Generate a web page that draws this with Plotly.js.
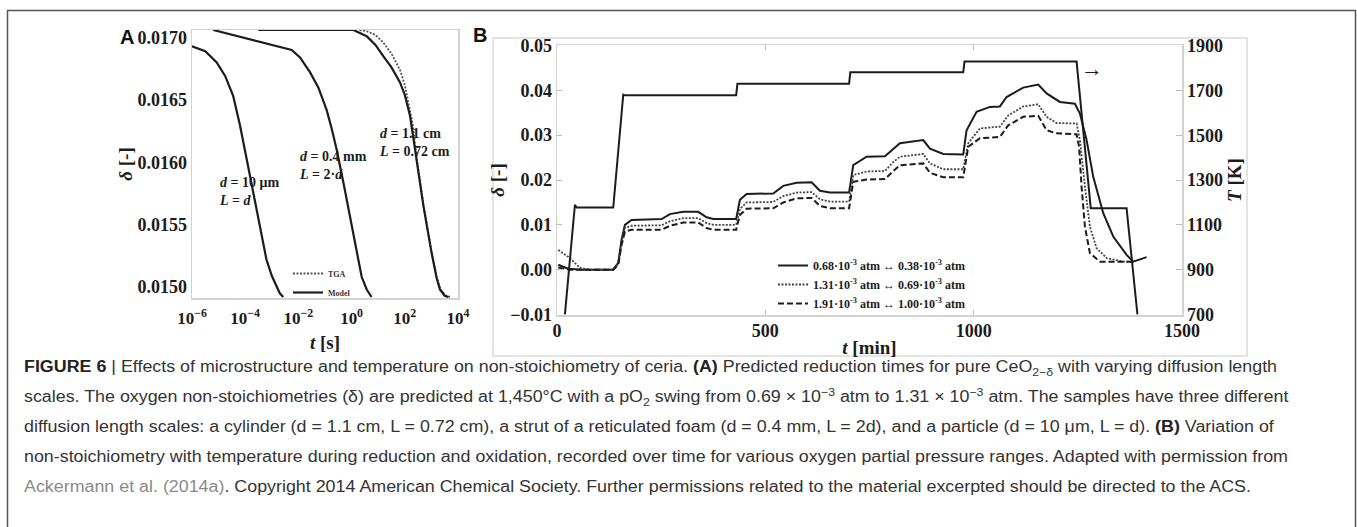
<!DOCTYPE html>
<html>
<head>
<meta charset="utf-8">
<script src="https://cdn.plot.ly/plotly-3.0.1.min.js"></script>
<style>
  html, body { margin:0; padding:0; background:#fff; }
  #wrap { position:relative; width:1357px; height:527px; overflow:hidden; }
  #chart { position:absolute; left:0; top:0; width:1357px; height:527px; }
  .cap { position:absolute; left:24px; white-space:nowrap; font-family:'Liberation Sans', Arial, sans-serif;
         font-size:16px; color:#333; transform-origin:0 50%; line-height:18px; height:18px; }
  .cap b { color:#222; }
  .cap .lnk { color:#8a8a8a; }
  .cap sub, .cap sup { font-size:11px; line-height:0; }
</style>
</head>
<body>
<div id="wrap">
  <div id="chart"></div>
  <div class="cap" id="c1" style="top:358px"><b>FIGURE 6</b> | Effects of microstructure and temperature on non-stoichiometry of ceria. <b>(A)</b> Predicted reduction times for pure CeO<sub>2−δ</sub> with varying diffusion length</div>
  <div class="cap" id="c2" style="top:388px">scales. The oxygen non-stoichiometries (δ) are predicted at 1,450°C with a pO<sub>2</sub> swing from 0.69 × 10<sup>−3</sup> atm to 1.31 × 10<sup>−3</sup> atm. The samples have three different</div>
  <div class="cap" id="c3" style="top:418px">diffusion length scales: a cylinder (d = 1.1 cm, L = 0.72 cm), a strut of a reticulated foam (d = 0.4 mm, L = 2d), and a particle (d = 10 μm, L = d). <b>(B)</b> Variation of</div>
  <div class="cap" id="c4" style="top:448px">non-stoichiometry with temperature during reduction and oxidation, recorded over time for various oxygen partial pressure ranges. Adapted with permission from</div>
  <div class="cap" id="c5" style="top:478px"><span class="lnk">Ackermann et al. (2014a)</span>. Copyright 2014 American Chemical Society. Further permissions related to the material excerpted should be directed to the ACS.</div>
</div>
<script>
// ---------- Panel A data (t in s, delta) ----------
const a10umT = [1e-6, 3.16e-6, 8.5e-6, 1.78e-5, 3.55e-5, 6.3e-5, 1.15e-4, 2.0e-4, 3.55e-4, 6.3e-4, 1.0e-3, 1.51e-3, 2.0e-3, 2.69e-3];
const a10umD = [0.01693, 0.01689, 0.01680, 0.01669, 0.01653, 0.01630, 0.01602, 0.01575, 0.01547, 0.01522, 0.01509, 0.01500, 0.01495, 0.01492];

const a04mmT = [6.3e-6, 5.6e-3, 1.15e-2, 2.75e-2, 5.6e-2, 1.15e-1, 1.78e-1, 2.75e-1, 5.0e-1, 8.9e-1, 1.55, 2.4, 3.7, 5.6];
const a04mmD = [0.01706, 0.01690, 0.01684, 0.01672, 0.01660, 0.01642, 0.01627, 0.01610, 0.01583, 0.01555, 0.01527, 0.01508, 0.01498, 0.01492];

const a11cmT = [3.1e-4, 1.17, 3.7, 7.9, 15.5, 31.6, 66, 100, 158, 282, 501, 1023, 1585, 2089, 3162, 4365];
const a11cmD = [0.01706, 0.01706, 0.01701, 0.01694, 0.01685, 0.01676, 0.01664, 0.01654, 0.01637, 0.01602, 0.01565, 0.01527, 0.01507, 0.01498, 0.01493, 0.01492];

const aTgaT = [2.0, 3.7, 7.9, 15.5, 31.6, 66, 100, 158, 200, 282, 501, 1023, 1585, 2239, 3548, 5012];
const aTgaD = [0.01706, 0.01705, 0.01702, 0.01696, 0.01687, 0.01674, 0.01662, 0.01642, 0.01630, 0.01603, 0.01566, 0.01528, 0.01508, 0.01498, 0.01493, 0.01492];

const aTickVals = [1e-6, 1e-4, 1e-2, 1, 1e2, 1e4];
const aTickText = ['10<sup>−6</sup>', '10<sup>−4</sup>', '10<sup>−2</sup>', '10<sup>0</sup>', '10<sup>2</sup>', '10<sup>4</sup>'];
const aYTicks = [0.0150, 0.0155, 0.0160, 0.0165, 0.0170];

// ---------- Panel B data (t in min) ----------
const bTempT = [19, 43, 47, 135, 159, 163, 430, 433, 701, 704, 975, 978, 1247, 1281, 1367, 1393];
const bTempK = [700, 1189, 1177, 1177, 1681, 1678, 1678, 1730, 1730, 1781, 1781, 1829, 1829, 1174, 1174, 700];

const bSolidT = [3, 27, 60, 135, 147, 155, 163, 179, 251, 271, 303, 339, 359, 375, 430, 439, 455, 519, 543, 575, 611, 631, 655, 701, 711, 743, 787, 807, 823, 879, 895, 927, 975, 983, 1007, 1039, 1063, 1079, 1119, 1155, 1175, 1207, 1243, 1255, 1271, 1287, 1311, 1335, 1367, 1383, 1415];
const bSolidD = [0.0011, 0.0002, 0.0000, 0.0000, 0.0015, 0.0067, 0.0100, 0.0111, 0.0113, 0.0124, 0.0129, 0.0129, 0.0117, 0.0113, 0.0113, 0.0156, 0.0169, 0.0170, 0.0187, 0.0194, 0.0195, 0.0176, 0.0172, 0.0172, 0.0233, 0.0252, 0.0253, 0.0270, 0.0282, 0.0289, 0.0270, 0.0258, 0.0257, 0.0311, 0.0352, 0.0363, 0.0364, 0.0385, 0.0406, 0.0413, 0.0393, 0.0374, 0.0370, 0.0348, 0.0289, 0.0207, 0.0126, 0.0074, 0.0033, 0.0018, 0.0028];

const bDotT = [3, 31, 55, 80, 135, 147, 155, 163, 179, 251, 271, 303, 339, 359, 375, 430, 439, 455, 519, 543, 575, 611, 631, 655, 701, 711, 743, 787, 807, 823, 879, 895, 927, 975, 987, 1015, 1063, 1083, 1119, 1155, 1175, 1199, 1247, 1255, 1267, 1279, 1295, 1319, 1359, 1383];
const bDotD = [0.0044, 0.0026, 0.0004, 0.0000, 0.0000, 0.0013, 0.0060, 0.0093, 0.0098, 0.0099, 0.0108, 0.0115, 0.0115, 0.0104, 0.0100, 0.0100, 0.0135, 0.0150, 0.0151, 0.0164, 0.0172, 0.0173, 0.0157, 0.0152, 0.0152, 0.0211, 0.0219, 0.0220, 0.0240, 0.0252, 0.0258, 0.0237, 0.0224, 0.0224, 0.0282, 0.0315, 0.0319, 0.0344, 0.0364, 0.0369, 0.0341, 0.0327, 0.0326, 0.0289, 0.0185, 0.0096, 0.0048, 0.0026, 0.0018, 0.0018];

const bDashT = [3, 30, 135, 147, 155, 163, 179, 251, 271, 303, 339, 359, 375, 430, 439, 455, 519, 543, 575, 611, 631, 655, 701, 711, 743, 787, 807, 823, 879, 895, 927, 975, 987, 1015, 1063, 1083, 1119, 1155, 1175, 1199, 1247, 1253, 1259, 1267, 1279, 1303, 1383];
const bDashD = [0.0005, 0.0000, 0.0000, 0.0012, 0.0055, 0.0085, 0.0089, 0.0089, 0.0098, 0.0105, 0.0105, 0.0093, 0.0089, 0.0089, 0.0122, 0.0136, 0.0137, 0.0150, 0.0159, 0.0160, 0.0142, 0.0137, 0.0137, 0.0196, 0.0201, 0.0202, 0.0220, 0.0233, 0.0237, 0.0216, 0.0206, 0.0206, 0.0274, 0.0293, 0.0296, 0.0322, 0.0341, 0.0343, 0.0311, 0.0304, 0.0302, 0.0274, 0.0185, 0.0096, 0.0037, 0.0018, 0.0018];

const bXTicks = [0, 500, 1000, 1500];
const bYTicks = [-0.01, 0.00, 0.01, 0.02, 0.03, 0.04, 0.05];
const bTTicks = [700, 900, 1100, 1300, 1500, 1700, 1900];

const legendNamesB = [
  '0.68·10<sup>-3</sup> atm ↔ 0.38·10<sup>-3</sup> atm',
  '1.31·10<sup>-3</sup> atm ↔ 0.69·10<sup>-3</sup> atm',
  '1.91·10<sup>-3</sup> atm ↔ 1.00·10<sup>-3</sup> atm'
];

// ---------- styling helpers ----------
const W = 1357, H = 527;
const px = v => v / W, py = v => 1 - v / H;
const SERIF = 'Liberation Serif, Times New Roman, serif';
const SANS = 'Liberation Sans, Arial, sans-serif';
const INK = '#1c1c1c';
const FRAME = '#d2d2d2';

const lineA = {color: INK, width: 2.2};
const traces = [
  {x: aTgaT, y: aTgaD, xaxis: 'x', yaxis: 'y', mode: 'lines', name: 'TGA', legend: 'legend', legendrank: 1,
   line: {color: '#555', width: 1.8, dash: '2px,1.5px'}},
  {x: a10umT, y: a10umD, xaxis: 'x', yaxis: 'y', mode: 'lines', name: 'Model', legend: 'legend', legendrank: 2, line: lineA},
  {x: a04mmT, y: a04mmD, xaxis: 'x', yaxis: 'y', mode: 'lines', name: 'Model', showlegend: false, line: lineA},
  {x: a11cmT, y: a11cmD, xaxis: 'x', yaxis: 'y', mode: 'lines', name: 'Model', showlegend: false, line: lineA},

  {x: bTempT, y: bTempK, xaxis: 'x2', yaxis: 'y3', mode: 'lines', name: 'T', showlegend: false,
   line: {color: INK, width: 2}},
  {x: bSolidT, y: bSolidD, xaxis: 'x2', yaxis: 'y2', mode: 'lines', name: legendNamesB[0], legend: 'legend2',
   line: {color: INK, width: 2}},
  {x: bDotT, y: bDotD, xaxis: 'x2', yaxis: 'y2', mode: 'lines', name: legendNamesB[1], legend: 'legend2',
   line: {color: '#444', width: 1.8, dash: '2px,1.5px'}},
  {x: bDashT, y: bDashD, xaxis: 'x2', yaxis: 'y2', mode: 'lines', name: legendNamesB[2], legend: 'legend2',
   line: {color: INK, width: 2, dash: '6px,3px'}}
];

const tickFont = {family: SERIF, size: 18, weight: 'bold', color: INK};
const titleFont = {family: SERIF, size: 19, weight: 'bold', color: INK};
const annFont = {family: SERIF, size: 14, weight: 'bold', color: INK};

const layout = {
  width: W, height: H,
  margin: {l: 0, r: 0, t: 0, b: 0},
  paper_bgcolor: 'rgba(0,0,0,0)', plot_bgcolor: '#fff',
  font: {family: SERIF, weight: 'bold', color: INK},
  showlegend: true,
  xaxis: {
    domain: [px(192), px(458)], anchor: 'y', type: 'log', range: [-6, 4],
    tickvals: aTickVals, ticktext: aTickText, tickfont: {family: SERIF, size: 17, weight: 'bold', color: INK},
    showline: true, mirror: true, linecolor: FRAME, linewidth: 1.5, showgrid: false, zeroline: false,
    ticks: '', ticklabelstandoff: 4,
    title: {text: '<i>t</i> [s]', font: titleFont, standoff: 9}
  },
  yaxis: {
    domain: [py(298), py(30)], anchor: 'x', range: [0.014912, 0.01706],
    tickvals: aYTicks, tickformat: '.4f', tickfont: tickFont,
    showline: true, mirror: true, linecolor: FRAME, linewidth: 1.5, showgrid: false, zeroline: false,
    ticks: '',
    title: {text: '<i>δ</i> [-]', font: titleFont, standoff: 0}
  },
  xaxis2: {
    domain: [px(557), px(1182)], anchor: 'y2', range: [0, 1500],
    tickvals: bXTicks, tickfont: tickFont,
    showline: true, mirror: 'ticks', linecolor: FRAME, linewidth: 1.5, showgrid: false, zeroline: false,
    ticks: 'inside', ticklen: 5, tickcolor: '#bdbdbd', ticklabelstandoff: -1,
    title: {text: '<i>t</i> [min]', font: titleFont, standoff: 0}
  },
  yaxis2: {
    domain: [py(315), py(45)], anchor: 'x2', range: [-0.0101, 0.0501],
    tickvals: bYTicks, tickformat: '.2f', tickfont: tickFont,
    showline: true, mirror: false, linecolor: FRAME, linewidth: 1.5, showgrid: false, zeroline: false,
    ticks: 'inside', ticklen: 5, tickcolor: '#bdbdbd',
    title: {text: '<i>δ</i> [-]', font: titleFont, standoff: 0}
  },
  yaxis3: {
    domain: [py(315), py(45)], anchor: 'x2', overlaying: 'y2', side: 'right', range: [697, 1903],
    tickvals: bTTicks, tickfont: tickFont,
    showline: true, linecolor: FRAME, linewidth: 1.5, showgrid: false, zeroline: false,
    ticks: 'inside', ticklen: 6, tickcolor: '#bdbdbd',
    title: {text: '<i>T</i> [K]', font: titleFont, standoff: 5}
  },
  legend: {
    x: px(288), y: py(259), xanchor: 'left', yanchor: 'top', bgcolor: 'rgba(0,0,0,0)',
    font: {family: SERIF, size: 8, weight: 'bold', color: '#333'}, tracegroupgap: 0, itemwidth: 30,
    traceorder: 'normal'
  },
  legend2: {
    x: px(773), y: py(251), xanchor: 'left', yanchor: 'top', bgcolor: 'rgba(0,0,0,0)',
    font: {family: SERIF, size: 12, weight: 'bold', color: INK}, tracegroupgap: 0, itemwidth: 30,
    traceorder: 'normal'
  },
  annotations: [
    {xref: 'paper', yref: 'paper', x: px(127), y: py(37), xanchor: 'center', yanchor: 'middle', text: 'A', showarrow: false,
     font: {family: SANS, size: 20, weight: 'bold', color: '#111'}},
    {xref: 'paper', yref: 'paper', x: px(480), y: py(35), xanchor: 'center', yanchor: 'middle', text: 'B', showarrow: false,
     font: {family: SANS, size: 20, weight: 'bold', color: '#111'}},
    {xref: 'paper', yref: 'paper', x: px(217), y: py(192), xanchor: 'left', yanchor: 'middle', align: 'left',
     text: '<i>d</i> = 10 μm<br><i>L</i> = <i>d</i>', showarrow: false, font: annFont},
    {xref: 'paper', yref: 'paper', x: px(297), y: py(166), xanchor: 'left', yanchor: 'middle', align: 'left',
     text: '<i>d</i> = 0.4 mm<br><i>L</i> = 2·<i>d</i>', showarrow: false, font: annFont},
    {xref: 'paper', yref: 'paper', x: px(377), y: py(142), xanchor: 'left', yanchor: 'middle', align: 'left',
     text: '<i>d</i> = 1.1 cm<br><i>L</i> = 0.72 cm', showarrow: false, font: annFont},
    {xref: 'paper', yref: 'paper', x: px(1092), y: py(69), xanchor: 'center', yanchor: 'middle', text: '→', showarrow: false,
     font: {family: SERIF, size: 22, color: INK}}
  ],
  shapes: [
    {type: 'rect', xref: 'paper', yref: 'paper', x0: px(7.5), x1: px(1355.5), y0: -0.3, y1: py(10.5),
     line: {color: '#555', width: 1.5}, layer: 'below'},
    {type: 'rect', xref: 'paper', yref: 'paper', x0: px(493), x1: px(1247), y0: py(356), y1: py(38),
     line: {color: '#dadada', width: 1.5}, layer: 'below'}
  ]
};

Plotly.newPlot('chart', traces, layout, {staticPlot: true, displayModeBar: false});

// fit caption lines horizontally to the reference line width
function fitCaption() {
  const ref = document.getElementById('c4');
  ref.style.transform = 'none';
  const w = ref.getBoundingClientRect().width;
  const k = 1264 / w;
  ['c1','c2','c3','c4','c5'].forEach(id => {
    document.getElementById(id).style.transform = 'scaleX(' + k.toFixed(4) + ')';
  });
}
if (document.fonts && document.fonts.ready) { document.fonts.ready.then(fitCaption); } else { fitCaption(); }
fitCaption();
</script>
</body>
</html>
